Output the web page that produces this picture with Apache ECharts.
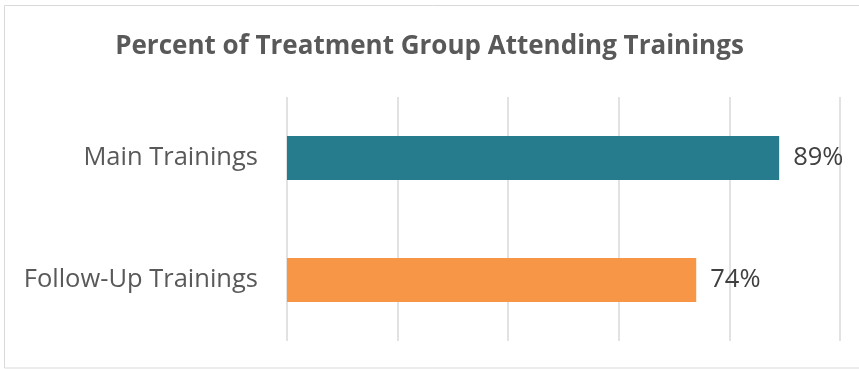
<!DOCTYPE html>
<html>
<head>
<meta charset="utf-8">
<script src="https://cdn.jsdelivr.net/npm/echarts@6/dist/echarts.min.js"></script>
<style>
  html, body { margin: 0; padding: 0; background: #fff; }
  #chart { width: 859px; height: 369px; }
</style>
</head>
<body>
<div id="chart"></div>
<script>
// Attendance categories, listed top to bottom
const categories = ['Main Trainings', 'Follow-Up Trainings'];
// Percent of treatment group attending
const attendance = [89, 74];
const barColors = ['#267b8d', '#f69646'];

const chart = echarts.init(document.getElementById('chart'), null, { renderer: 'canvas' });

chart.setOption({
  animation: false,
  backgroundColor: '#ffffff',
  title: {
    text: 'Percent of Treatment Group Attending Trainings',
    left: 'center',
    top: 29,
    textStyle: {
      fontFamily: 'Open Sans',
      fontWeight: 'bold',
      fontSize: 26,
      color: '#595959'
    }
  },
  graphic: [{
    type: 'rect',
    silent: true,
    shape: { x: 4.5, y: 5.5, width: 900, height: 362.5 },
    style: { fill: 'none', stroke: '#d9d9d9', lineWidth: 1 }
  }],
  grid: { left: 287, right: 19, top: 97, bottom: 28, containLabel: false },
  xAxis: {
    type: 'value',
    min: 0,
    max: 100,
    interval: 20,
    axisLabel: { show: false },
    axisLine: { show: false },
    axisTick: { show: false },
    splitLine: { show: true, lineStyle: { color: '#d9d9d9', width: 1.5 } }
  },
  yAxis: {
    type: 'category',
    inverse: true,
    data: categories,
    axisLine: { show: false },
    axisTick: { show: false },
    axisLabel: {
      margin: 29,
      fontFamily: 'Open Sans',
      fontSize: 25.5,
      color: '#595959'
    }
  },
  series: [{
    type: 'bar',
    barWidth: 44,
    data: attendance.map((v, i) => ({ value: v, itemStyle: { color: barColors[i] } })),
    label: {
      show: true,
      position: 'right',
      distance: 14,
      formatter: p => p.value + '%',
      fontFamily: 'Open Sans',
      fontSize: 25.5,
      color: '#404040'
    }
  }]
});
</script>
</body>
</html>
